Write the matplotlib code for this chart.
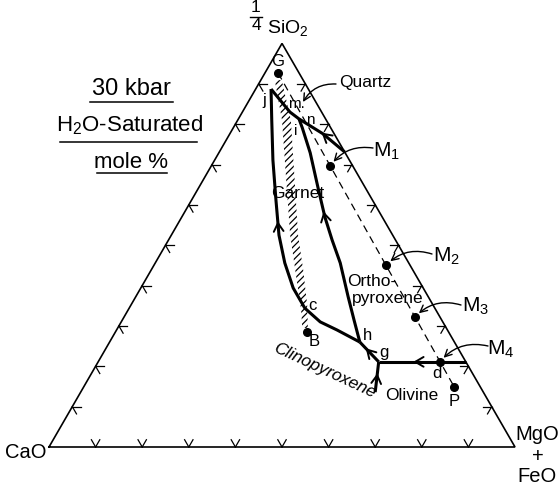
import numpy as np
import matplotlib
matplotlib.use("Agg")
import matplotlib.pyplot as plt
from matplotlib import font_manager
from matplotlib.patches import Polygon
from matplotlib.lines import Line2D

W, H = 559, 491

# ---------------- compositions, mole % : (SiO2/4, CaO, MgO+FeO) ----------------
tick_steps = [10, 20, 30, 40, 50, 60, 70, 80, 90]

G_pt = [92.7, 4.5, 2.8]
j_pt = [88.7, 8.0, 3.3]
i_pt = [81.3, 5.7, 13.0]
h_pt = [26.0, 20.3, 53.7]
g_pt = [21.1, 18.7, 60.2]
B_pt = [28.5, 30.4, 41.1]
M1_pt = [69.6, 4.9, 25.5]
M2_pt = [45.1, 5.1, 49.8]
M3_pt = [32.2, 5.4, 62.4]
d_pt = [21.1, 5.6, 73.3]          # M4
P_pt = [14.9, 5.6, 79.5]

# garnet + clinopyroxene boundary, j -> c -> h
gt_cpx_sio2 = [88.7, 81.0, 71.1, 61.2, 52.5, 45.6, 39.4, 34.4, 31.0, 29.0, 26.0]
gt_cpx_cao = [8.0, 11.7, 16.4, 20.7, 24.4, 26.6, 27.9, 27.9, 26.3, 23.7, 20.3]
gt_cpx_mgo = [3.3, 7.3, 12.5, 18.1, 23.1, 27.8, 32.7, 37.7, 42.7, 47.3, 53.7]

# garnet + orthopyroxene boundary, i -> h
gt_opx_sio2 = [81.3, 79.1, 72.9, 64.4, 57.0, 51.3, 45.6, 37.2, 31.5, 26.0]
gt_opx_cao = [5.7, 6.1, 7.5, 10.1, 12.3, 13.6, 14.7, 17.2, 18.8, 20.3]
gt_opx_mgo = [13.0, 14.8, 19.6, 25.5, 30.7, 35.1, 39.7, 45.6, 49.7, 53.7]

# quartz saturation boundary, j -> i -> SiO2-MgO join
qz_sio2 = [88.7, 83.0, 81.3, 77.6, 73.1]
qz_cao = [8.0, 6.8, 5.7, 2.4, 0.0]
qz_mgo = [3.3, 10.2, 13.0, 20.0, 26.9]

# olivine boundaries from g
ol_opx_end = [21.1, 0.0, 78.9]
ol_cpx_end = [13.6, 23.2, 63.2]

# garnet solid-solution band (two edges)
gt_band_left_sio2 = [90.9, 81.0, 63.7, 52.5, 42.6, 34.0, 29.5]
gt_band_left_mgo = [3.0, 9.5, 19.2, 25.5, 31.7, 37.1, 39.6]
gt_band_right_sio2 = [90.9, 81.0, 63.7, 52.5, 43.9, 35.2, 29.5]
gt_band_right_mgo = [4.5, 11.4, 21.0, 27.2, 32.6, 37.8, 40.8]

# ---------------- fonts ----------------
_names = {f.name for f in font_manager.fontManager.ttflist}
FONT = "Liberation Sans Narrow" if "Liberation Sans Narrow" in _names else "Liberation Sans"
plt.rcParams["font.family"] = [FONT, "DejaVu Sans"]
plt.rcParams["mathtext.fontset"] = "custom"
plt.rcParams["mathtext.rm"] = FONT
plt.rcParams["mathtext.it"] = FONT + ":italic"
plt.rcParams["mathtext.default"] = "rm"
plt.rcParams["hatch.linewidth"] = 0.9


def tern(sio2, cao, mgo):
    s = np.asarray(sio2, float)
    c = np.asarray(cao, float)
    m = np.asarray(mgo, float)
    tot = s + c + m
    s, m = s / tot, m / tot
    return m + s / 2.0, s * np.sqrt(3) / 2.0


fig = plt.figure(figsize=(W / 100, H / 100), dpi=100)
ax = fig.add_axes([0, 0, 1, 1])
ax.set_xlim(-49 / 466, 510 / 466)
ax.set_ylim(-44 / 466, 447 / 466)
ax.axis("off")

K = "black"

# triangle
tx, ty = tern([0, 0, 100, 0], [100, 0, 0, 100], [0, 100, 0, 0])
ax.plot(tx, ty, color=K, lw=1.2, solid_joinstyle="miter")

# edge ticks along the grid directions
L = 0.018
def tick(x, y, angles):
    for a in angles:
        r = np.radians(a)
        ax.plot([x, x + L * np.cos(r)], [y, y + L * np.sin(r)], color=K, lw=0.9)

for v in tick_steps:
    tick(*tern(0, 100 - v, v), (60, 120))
    tick(*tern(v, 100 - v, 0), (0, -60))
    tick(*tern(v, 0, 100 - v), (180, 240))

# garnet band
lx, ly = tern(gt_band_left_sio2, 100 - np.array(gt_band_left_sio2) - np.array(gt_band_left_mgo), gt_band_left_mgo)
rx, ry = tern(gt_band_right_sio2, 100 - np.array(gt_band_right_sio2) - np.array(gt_band_right_mgo), gt_band_right_mgo)
band = np.column_stack([np.concatenate([lx, rx[::-1]]), np.concatenate([ly, ry[::-1]])])
ax.add_patch(Polygon(band, closed=True, fill=False, hatch="/////", edgecolor=K, lw=0))

# dashed join G - P
gx, gy = tern(*zip(G_pt, P_pt))
ax.plot(gx, gy, color=K, lw=0.9, dashes=(6, 4))

# boundary curves
LW = 2.2
curves = {}
curves["gt_cpx"] = tern(gt_cpx_sio2, gt_cpx_cao, gt_cpx_mgo)
curves["gt_opx"] = tern(gt_opx_sio2, gt_opx_cao, gt_opx_mgo)
curves["qz"] = tern(qz_sio2, qz_cao, qz_mgo)
curves["hg"] = tern(*zip(h_pt, g_pt))
curves["ol_opx"] = tern(*zip(g_pt, ol_opx_end))
curves["ol_cpx"] = tern(*zip(ol_cpx_end, g_pt))
for xs, ys in curves.values():
    ax.plot(xs, ys, color=K, lw=LW, solid_capstyle="butt", solid_joinstyle="round")


def path_arrow(xs, ys, frac, reverse=False):
    xs, ys = np.asarray(xs), np.asarray(ys)
    seg = np.hypot(np.diff(xs), np.diff(ys))
    cum = np.concatenate([[0], np.cumsum(seg)])
    t = frac * cum[-1]
    k = int(np.clip(np.searchsorted(cum, t) - 1, 0, len(seg) - 1))
    u = (t - cum[k]) / seg[k]
    px = xs[k] + u * (xs[k + 1] - xs[k])
    py = ys[k] + u * (ys[k + 1] - ys[k])
    dx = (xs[k + 1] - xs[k]) / seg[k]
    dy = (ys[k + 1] - ys[k]) / seg[k]
    if reverse:
        dx, dy = -dx, -dy
    e = 0.008
    ax.annotate("", xy=(px + dx * e, py + dy * e), xytext=(px - dx * e, py - dy * e),
                arrowprops=dict(arrowstyle="->,head_length=0.6,head_width=0.35",
                                lw=1.4, color=K, shrinkA=0, shrinkB=0, mutation_scale=10))


path_arrow(*curves["gt_cpx"], 0.47, reverse=True)
path_arrow(*curves["gt_opx"], 0.43, reverse=True)
path_arrow(*curves["qz"], 0.73, reverse=True)
path_arrow(*curves["hg"], 0.45, reverse=True)
path_arrow(*curves["ol_opx"], 0.44, reverse=True)
path_arrow(*curves["ol_cpx"], 0.5)

# composition points
for p in (G_pt, B_pt, M1_pt, M2_pt, M3_pt, d_pt, P_pt):
    x, y = tern(*p)
    ax.plot(x, y, "o", ms=5.5, color=K)


# ---------------- text ----------------
def fx(x, y):
    return (x / W, 1 - y / H)


def lab(s, x, y, size=13, **kw):
    kw.setdefault("ha", "center")
    kw.setdefault("va", "center")
    fig.text(*fx(x, y), s, fontsize=size, color=K, **kw)


def hline(x0, x1, y, lw=1.1):
    fig.add_artist(Line2D([x0 / W, x1 / W], [1 - y / H, 1 - y / H], color=K, lw=lw))


# corners
lab("1", 256, 8, 12.5)
hline(250, 262, 16.5, 1.0)
lab("4", 256, 25, 12.5)
lab("SiO$_2$", 267, 33, 14, ha="left", va="baseline")
lab("CaO", 26, 453, 14.5)
lab("MgO", 537, 434, 14.5)
lab("+", 538, 457, 14.5)
lab("FeO", 537, 477, 14.5)

# conditions block
lab("30 kbar", 131, 89, 17)
hline(90, 173, 102)
lab("H$_2$O-Saturated", 130, 131, 16, va="baseline")
hline(60, 197, 142)
lab("mole %", 131, 163, 16)
hline(97, 167, 173)

# point / field labels
lab("G", 278, 62, 12)
lab("j", 264, 100, 12)
lab("m.", 296, 104, 11)
lab("n", 310, 120, 11)
lab("i", 296, 131, 11)
lab("c", 312, 305, 12)
lab("B", 314, 341, 12)
lab("h", 367, 335, 12)
lab("g", 384, 352, 12)
lab("d", 437, 373, 12)
lab("P", 454, 401, 12)
lab("Quartz", 339, 83, 12.5, ha="left")
lab("Garnet", 298, 194, 12.5)
lab("Ortho-", 372, 281, 12.5)
lab("pyroxene", 388, 299, 12.5)
lab("Olivine", 412, 396, 12.5)
lab("Clinopyroxene", 324, 371, 12.5, rotation=-25, style="italic")
lab("M$_1$", 386, 151, 15)
lab("M$_2$", 446, 256, 15)
lab("M$_3$", 476, 306, 15)
lab("M$_4$", 501, 349, 15)

# pointer arrows
arrow_kw = dict(arrowstyle="->,head_length=0.5,head_width=0.25",
                connectionstyle="arc3,rad=0.3", lw=1.0, color=K, shrinkA=0)
ax.annotate("", xy=fx(303, 102), xycoords="figure fraction",
            xytext=fx(336, 84), textcoords="figure fraction",
            arrowprops=dict(shrinkB=0, **arrow_kw))
for p, (sx, sy) in ((M1_pt, (373, 148)), (M2_pt, (432, 254)),
                    (M3_pt, (461, 305)), (d_pt, (488, 346))):
    ax.annotate("", xy=tern(*p), xycoords="data",
                xytext=fx(sx, sy), textcoords="figure fraction",
                arrowprops=dict(shrinkB=4, **arrow_kw))

fig.savefig("out.png", dpi=100, facecolor="white")
